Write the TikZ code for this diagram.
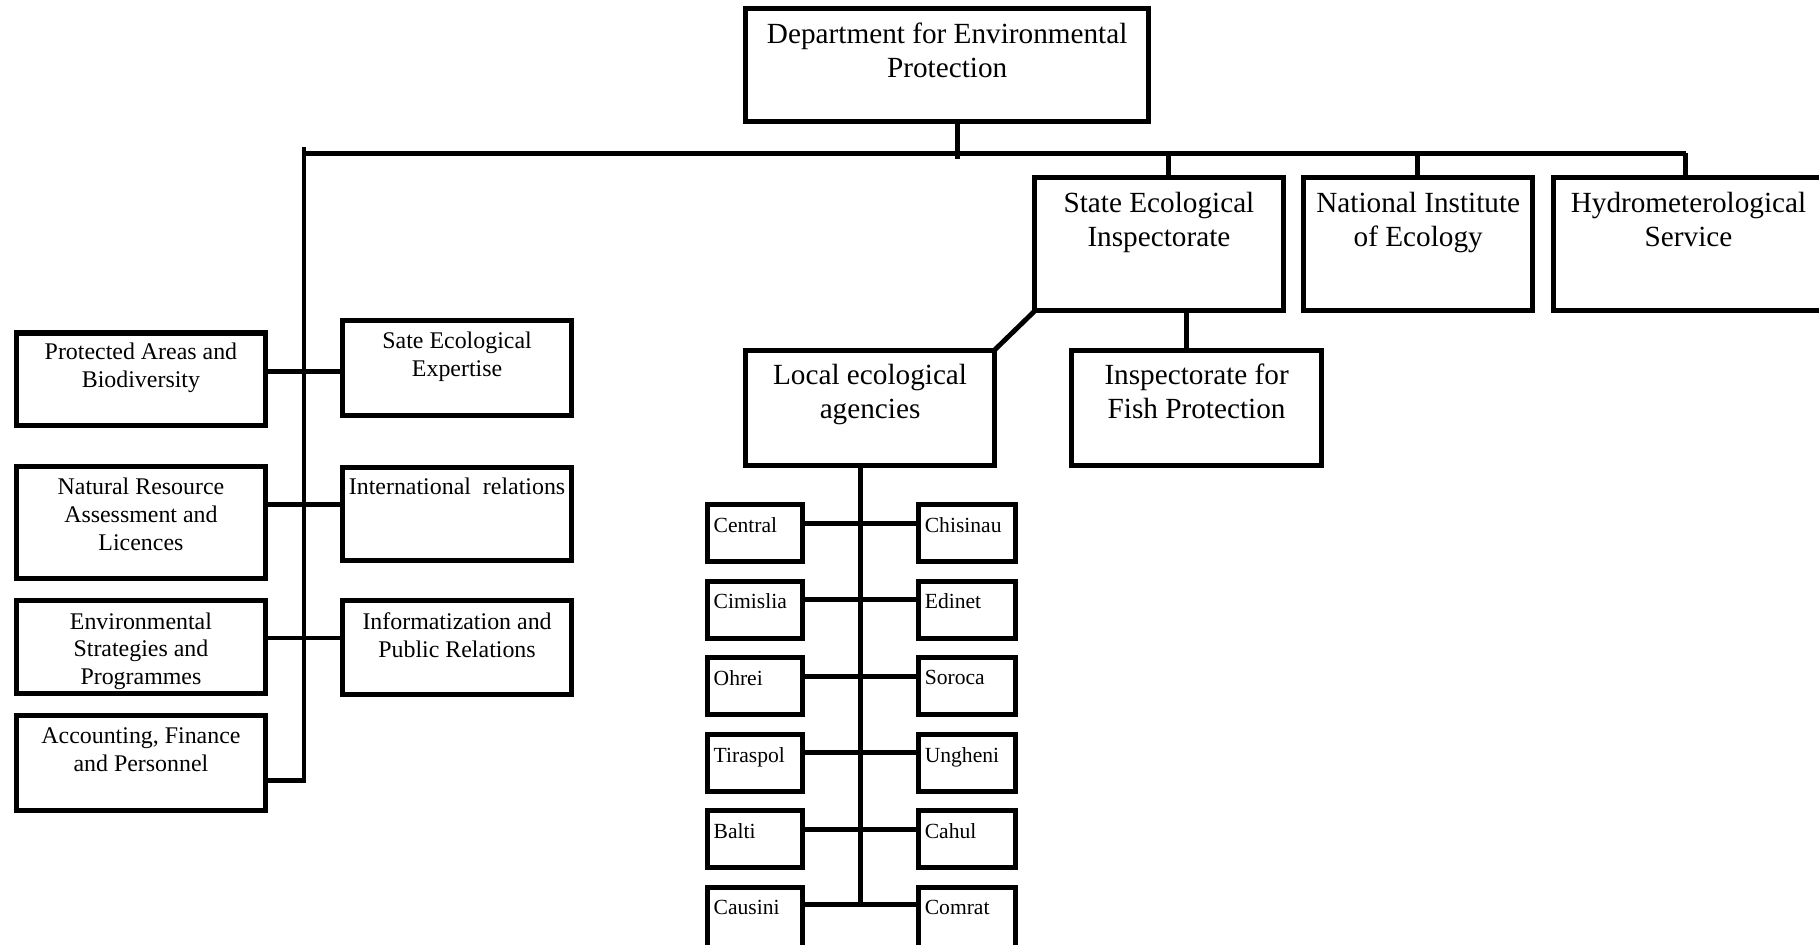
\documentclass[tikz,border=0pt]{standalone}
\usepackage{fontspec}
\setmainfont{Liberation Serif}
\usetikzlibrary{fit}
\begin{document}
\begin{tikzpicture}[x=0.5pt,y=-0.5pt,
  box/.style={draw, line width=2.2pt, inner sep=0pt, outer sep=0pt, rectangle},
  bigtxt/.style={font=\fontsize{12.6}{14.5}\selectfont, align=center, inner sep=0pt, anchor=north},
  midtxt/.style={font=\fontsize{10.3}{12}\selectfont, align=center, inner sep=0pt, anchor=north},
  smalltxt/.style={font=\fontsize{9.3}{11}\selectfont, inner sep=0pt, anchor=north west, xshift=2.4pt, yshift=-5.3pt},
  link/.style={line width=2.1pt}]
\useasboundingbox (0,0) rectangle (1568,814);
\clip (0,0) rectangle (1568,814);
% top
\node[box, fit={(643,7)(990,105)}, label={[bigtxt, yshift=-6.2pt]north:{Department for Environmental\\Protection}}] (dep) {};
\node[box, fit={(892,153)(1106,268)}, label={[bigtxt, yshift=-6.1pt]north:{State Ecological\\Inspectorate}}] (sei) {};
\node[box, fit={(1124,153)(1321,268)}, label={[bigtxt, yshift=-6.1pt]north:{National Institute\\of Ecology}}] (nie) {};
\node[box, fit={(1339,153)(1572,268)}, label={[bigtxt, yshift=-6.1pt]north:{Hydrometerological\\Service}}] (hyd) {};
\node[box, fit={(643,302)(857,401)}, label={[bigtxt, yshift=-5.8pt]north:{Local ecological\\agencies}}] (lea) {};
\node[box, fit={(924,302)(1139,401)}, label={[bigtxt, yshift=-5.8pt]north:{Inspectorate for\\Fish Protection}}] (ifp) {};
% left column
\node[box, fit={(14,287)(229,367)}, label={[midtxt, yshift=-4.3pt]north:{Protected Areas and\\Biodiversity}}] (pab) {};
\node[box, fit={(14,402)(229,499)}, label={[midtxt, yshift=-4.8pt]north:{Natural Resource\\Assessment and\\Licences}}] (nra) {};
\node[box, fit={(14,518)(229,598)}, label={[midtxt, yshift=-4.8pt]north:{Environmental\\Strategies and\\Programmes}}] (esp) {};
\node[box, fit={(14,617)(229,699)}, label={[midtxt, yshift=-4.8pt]north:{Accounting, Finance\\and Personnel}}] (afp) {};
\node[box, fit={(295,276)(493,358)}, label={[midtxt, yshift=-4.8pt]north:{Sate Ecological\\Expertise}}] (see) {};
\node[box, fit={(295,403)(493,483)}, label={[midtxt, yshift=-4.3pt]north:{International\ \ relations}}] (irl) {};
\node[box, fit={(295,518)(493,599)}, label={[midtxt, yshift=-4.8pt]north:{Informatization and\\Public Relations}}] (ipr) {};
% small boxes
\node[box, fit={(610,435)(692,484)}, label={[smalltxt]north west:{Central}}] (c1) {};
\node[box, fit={(610,501)(692,550)}, label={[smalltxt]north west:{Cimislia}}] (c2) {};
\node[box, fit={(610,567)(692,616)}, label={[smalltxt]north west:{Ohrei}}] (c3) {};
\node[box, fit={(610,633)(692,682)}, label={[smalltxt]north west:{Tiraspol}}] (c4) {};
\node[box, fit={(610,699)(692,748)}, label={[smalltxt]north west:{Balti}}] (c5) {};
\node[box, fit={(610,765)(692,818)}, label={[smalltxt]north west:{Causini}}] (c6) {};
\node[box, fit={(792,435)(875,484)}, label={[smalltxt]north west:{Chisinau}}] (r1) {};
\node[box, fit={(792,501)(875,550)}, label={[smalltxt]north west:{Edinet}}] (r2) {};
\node[box, fit={(792,567)(875,616)}, label={[smalltxt]north west:{Soroca}}] (r3) {};
\node[box, fit={(792,633)(875,682)}, label={[smalltxt]north west:{Ungheni}}] (r4) {};
\node[box, fit={(792,699)(875,748)}, label={[smalltxt]north west:{Cahul}}] (r5) {};
\node[box, fit={(792,765)(875,818)}, label={[smalltxt]north west:{Comrat}}] (r6) {};
% coordinates
\coordinate (spT) at (262,127);
\coordinate (busL) at (262,132);
\coordinate (busR) at (1453,132);
\coordinate (depx) at (825,137);
\coordinate (d1) at (1007,132);
\coordinate (d2) at (1222,132);
\coordinate (s1) at (262,320);
\coordinate (s2) at (262,435);
\coordinate (s3) at (262,550);
\coordinate (s4) at (262,673);
\coordinate (f1) at (1023,0);
\coordinate (l0) at (742,0);
\coordinate (w1) at (742,451);
\coordinate (w2) at (742,517);
\coordinate (w3) at (742,583);
\coordinate (w4) at (742,649);
\coordinate (w5) at (742,715);
\coordinate (w6) at (742,780);
% connectors
\draw[link] (dep.south -| depx) -- (depx);
\draw[link] (afp.east |- s4) -- (s4) -- (spT);
\draw[link] (busL) -- (busR);
\draw[link] (d1) -- (sei.north -| d1);
\draw[link] (d2) -- (nie.north -| d2);
\draw[link] (busR) -- (hyd.north -| busR);
\draw[link] (pab.east |- s1) -- (see.west |- s1);
\draw[link] (nra.east |- s2) -- (irl.west |- s2);
\draw[link] (esp.east |- s3) -- (ipr.west |- s3);
\draw[link] (sei.south west) -- (lea.north east);
\draw[link] (sei.south -| f1) -- (ifp.north -| f1);
\draw[link] (lea.south -| l0) -- (w6);
\draw[link] (c1.east |- w1) -- (r1.west |- w1);
\draw[link] (c2.east |- w2) -- (r2.west |- w2);
\draw[link] (c3.east |- w3) -- (r3.west |- w3);
\draw[link] (c4.east |- w4) -- (r4.west |- w4);
\draw[link] (c5.east |- w5) -- (r5.west |- w5);
\draw[link] (c6.east |- w6) -- (r6.west |- w6);
\end{tikzpicture}
\end{document}
